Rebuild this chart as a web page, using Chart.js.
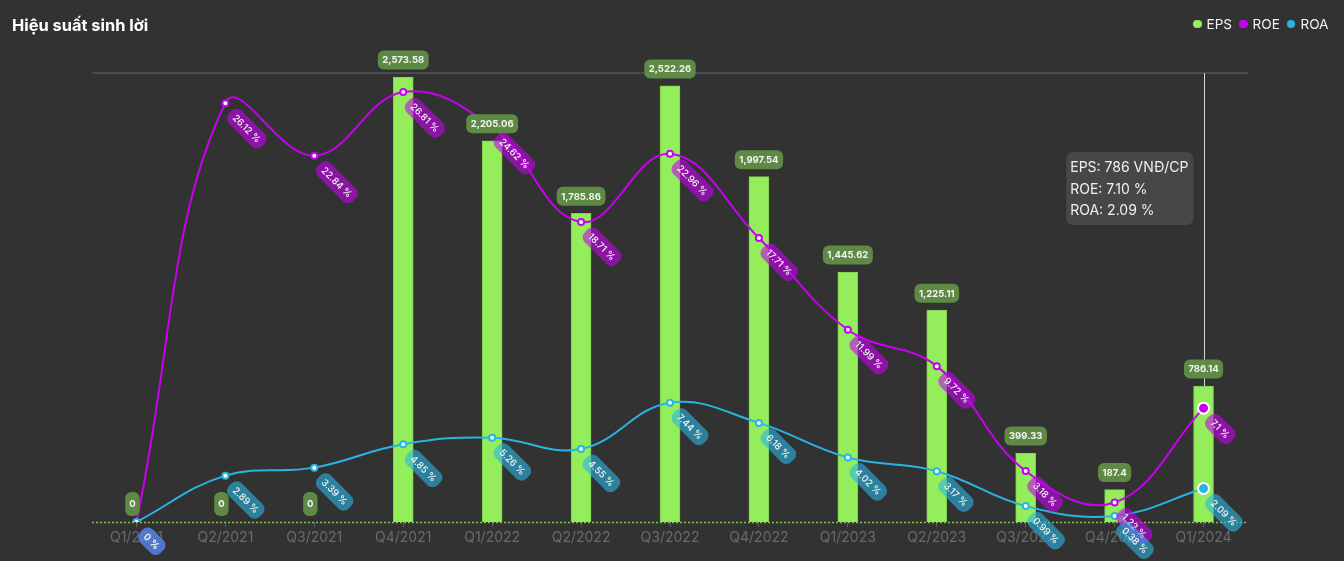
<!DOCTYPE html>
<html>
<head>
<meta charset="utf-8">
<script src="https://cdn.jsdelivr.net/npm/chart.js@4.4.0/dist/chart.umd.min.js"></script>
<style>
  html, body { margin: 0; padding: 0; background: #323232; }
  #wrap { position: relative; width: 1344px; height: 561px; background: #323232; overflow: hidden; }
  #title { position: absolute; left: 12px; top: 15px; color: #ffffff; font: 700 16.4px Inter, "Noto Sans", sans-serif; }
  #legend { position: absolute; top: 16px; left: 1193px; color: #f2f2f2; font: 400 13.6px Inter, "Noto Sans", sans-serif; display: flex; align-items: center; white-space: nowrap; }
  #legend span.item { display: inline-flex; align-items: center; margin-right: 7px; }
  #legend i { display: inline-block; width: 8.5px; height: 8.5px; border-radius: 50%; margin-right: 5px; }
  canvas { position: absolute; left: 0; top: 0; }
</style>
</head>
<body>
<div id="wrap">
  <canvas id="c" width="1344" height="561"></canvas>
  <div id="title">Hiệu suất sinh lời</div>
  <div id="legend">
    <span class="item"><i style="background:#94ee5c"></i>EPS</span>
    <span class="item"><i style="background:#c800f0"></i>ROE</span>
    <span class="item"><i style="background:#29b5e3"></i>ROA</span>
  </div>
</div>
<script>
const categories = ['Q1/2021','Q2/2021','Q3/2021','Q4/2021','Q1/2022','Q2/2022','Q3/2022','Q4/2022','Q1/2023','Q2/2023','Q3/2023','Q4/2023','Q1/2024'];
const epsValues = [0, 0, 0, 2573.58, 2205.06, 1785.86, 2522.26, 1997.54, 1445.62, 1225.11, 399.33, 187.4, 786.14];
const roeValues = [0, 26.12, 22.84, 26.81, 24.62, 18.71, 22.96, 17.71, 11.99, 9.72, 3.18, 1.22, 7.1];
const roaValues = [0, 2.89, 3.39, 4.85, 5.26, 4.55, 7.44, 6.18, 4.02, 3.17, 0.99, 0.38, 2.09];
const activeIndex = 12;

const EPS_COLOR = '#94ee5c';
const ROE_COLOR = '#c800f0';
const ROA_COLOR = '#29b5e3';
const FONT = 'Inter, "Noto Sans", sans-serif';

function fmtEps(v) { return v.toLocaleString('en-US', { maximumFractionDigits: 2 }); }

const overlayPlugin = {
  id: 'overlay',
  beforeDatasetsDraw(chart) {
    const { ctx, chartArea } = chart;
    ctx.save();
    ctx.strokeStyle = '#555555';
    ctx.lineWidth = 1.5;
    ctx.beginPath();
    ctx.moveTo(chartArea.left, chartArea.top);
    ctx.lineTo(chartArea.right, chartArea.top);
    ctx.stroke();
    // crosshair
    const xa = chart.scales.x.getPixelForValue(activeIndex);
    ctx.strokeStyle = '#d6d6d6';
    ctx.lineWidth = 1;
    ctx.beginPath();
    ctx.moveTo(Math.round(xa) + 0.5, chartArea.top);
    ctx.lineTo(Math.round(xa) + 0.5, chartArea.bottom);
    ctx.stroke();
    ctx.restore();
  },
  afterDatasetsDraw(chart) {
    const { ctx, chartArea } = chart;
    // dotted baseline
    ctx.save();
    ctx.strokeStyle = '#84c44e';
    ctx.lineWidth = 1.5;
    ctx.setLineDash([2, 2]);
    ctx.beginPath();
    ctx.moveTo(chartArea.left, chartArea.bottom + 0.5);
    ctx.lineTo(chartArea.right, chartArea.bottom + 0.5);
    ctx.stroke();
    ctx.restore();

    // EPS labels
    const barMeta = chart.getDatasetMeta(0);
    ctx.save();
    ctx.font = '700 9.5px ' + FONT;
    ctx.textAlign = 'center';
    ctx.textBaseline = 'middle';
    barMeta.data.forEach((bar, i) => {
      const v = epsValues[i];
      const txt = fmtEps(v);
      const tw = ctx.measureText(txt).width;
      let w = tw + 9, h = 19, cx = bar.x, cy = bar.y - 17;
      if (v === 0) { h = 24; w = tw + 8; cx = bar.x - 4; cy = bar.y - 18; }
      ctx.fillStyle = '#5e8a45';
      ctx.beginPath();
      ctx.roundRect(cx - w / 2, cy - h / 2, w, h, 6);
      ctx.fill();
      ctx.fillStyle = '#f4f4f4';
      ctx.fillText(txt, cx, cy + 0.5);
    });
    ctx.restore();

    // ROE / ROA rotated labels
    const lineSets = [
      { idx: 1, vals: roeValues, color: 'rgba(200,0,240,0.6)' },
      { idx: 2, vals: roaValues, color: 'rgba(41,181,227,0.6)' }
    ];
    lineSets.forEach(s => {
      const meta = chart.getDatasetMeta(s.idx);
      meta.data.forEach((pt, i) => {
        const txt = s.vals[i] + ' %';
        ctx.save();
        ctx.font = '500 9.5px ' + FONT;
        const tw = ctx.measureText(txt).width;
        const L = tw + 11, H = 18;
        ctx.translate(pt.x + 5, pt.y + 9);
        ctx.rotate(Math.PI / 4);
        ctx.fillStyle = s.color;
        ctx.beginPath();
        ctx.roundRect(0, -H / 2, L, H, 7);
        ctx.fill();
        ctx.fillStyle = '#f4f4f4';
        ctx.textAlign = 'left';
        ctx.textBaseline = 'middle';
        ctx.fillText(txt, 5.5, 0.5);
        ctx.restore();
      });
    });
  },
  afterDraw(chart) {
    const { ctx } = chart;
    const lines = [
      'EPS: ' + Math.round(epsValues[activeIndex]).toLocaleString('en-US') + ' VNĐ/CP',
      'ROE: ' + roeValues[activeIndex].toFixed(2) + ' %',
      'ROA: ' + roaValues[activeIndex].toFixed(2) + ' %'
    ];
    const xa = chart.scales.x.getPixelForValue(activeIndex);
    ctx.save();
    ctx.font = '400 14px ' + FONT;
    const w = Math.max(...lines.map(l => ctx.measureText(l).width)) + 9;
    const h = 73;
    const x = xa - 10 - w, y = 152;
    ctx.fillStyle = 'rgba(72,72,72,0.97)';
    ctx.beginPath();
    ctx.roundRect(x, y, w, h, 7);
    ctx.fill();
    ctx.fillStyle = '#f0f0f0';
    ctx.textAlign = 'left';
    ctx.textBaseline = 'middle';
    lines.forEach((l, i) => ctx.fillText(l, x + 4, y + 16 + i * 21.5));
    ctx.restore();
  }
};

const scriptRadius = ctx => ctx.dataIndex === activeIndex ? 5.5 : 3;
new Chart(document.getElementById('c'), {
  data: {
    labels: categories,
    datasets: [
      {
        type: 'bar', label: 'EPS', data: epsValues, yAxisID: 'y',
        backgroundColor: EPS_COLOR, borderColor: '#7fcf4c', borderWidth: 1,
        barThickness: 20, order: 3
      },
      {
        type: 'line', label: 'ROE', data: roeValues, yAxisID: 'y1',
        borderColor: ROE_COLOR, borderWidth: 2, tension: 0.4, fill: false,
        pointRadius: scriptRadius,
        pointBackgroundColor: c => c.dataIndex === activeIndex ? ROE_COLOR : '#ffffff',
        pointBorderColor: c => c.dataIndex === activeIndex ? '#ffffff' : ROE_COLOR,
        pointBorderWidth: 2, order: 2
      },
      {
        type: 'line', label: 'ROA', data: roaValues, yAxisID: 'y1',
        borderColor: ROA_COLOR, borderWidth: 2, tension: 0.4, fill: false,
        pointRadius: scriptRadius,
        pointBackgroundColor: c => c.dataIndex === activeIndex ? ROA_COLOR : '#ffffff',
        pointBorderColor: c => c.dataIndex === activeIndex ? '#ffffff' : ROA_COLOR,
        pointBorderWidth: 2, order: 1
      }
    ]
  },
  options: {
    responsive: false,
    animation: false,
    events: [],
    layout: { padding: { left: 92, right: 96, top: 73, bottom: 0 } },
    plugins: { legend: { display: false }, tooltip: { enabled: false }, title: { display: false } },
    scales: {
      x: {
        offset: true,
        grid: { display: true, offset: false, drawOnChartArea: false, drawTicks: true, tickLength: 5, color: '#5e5e5e' },
        border: { display: false },
        ticks: { color: '#6a6a6a', font: { size: 14, family: FONT }, padding: 2, maxRotation: 0, autoSkip: false },
        afterFit(scale) { scale.height = 39; }
      },
      y: { display: false, min: 0, max: 2597 },
      y1: { display: false, min: 0, max: 28 }
    }
  },
  plugins: [overlayPlugin]
});
</script>
</body>
</html>
